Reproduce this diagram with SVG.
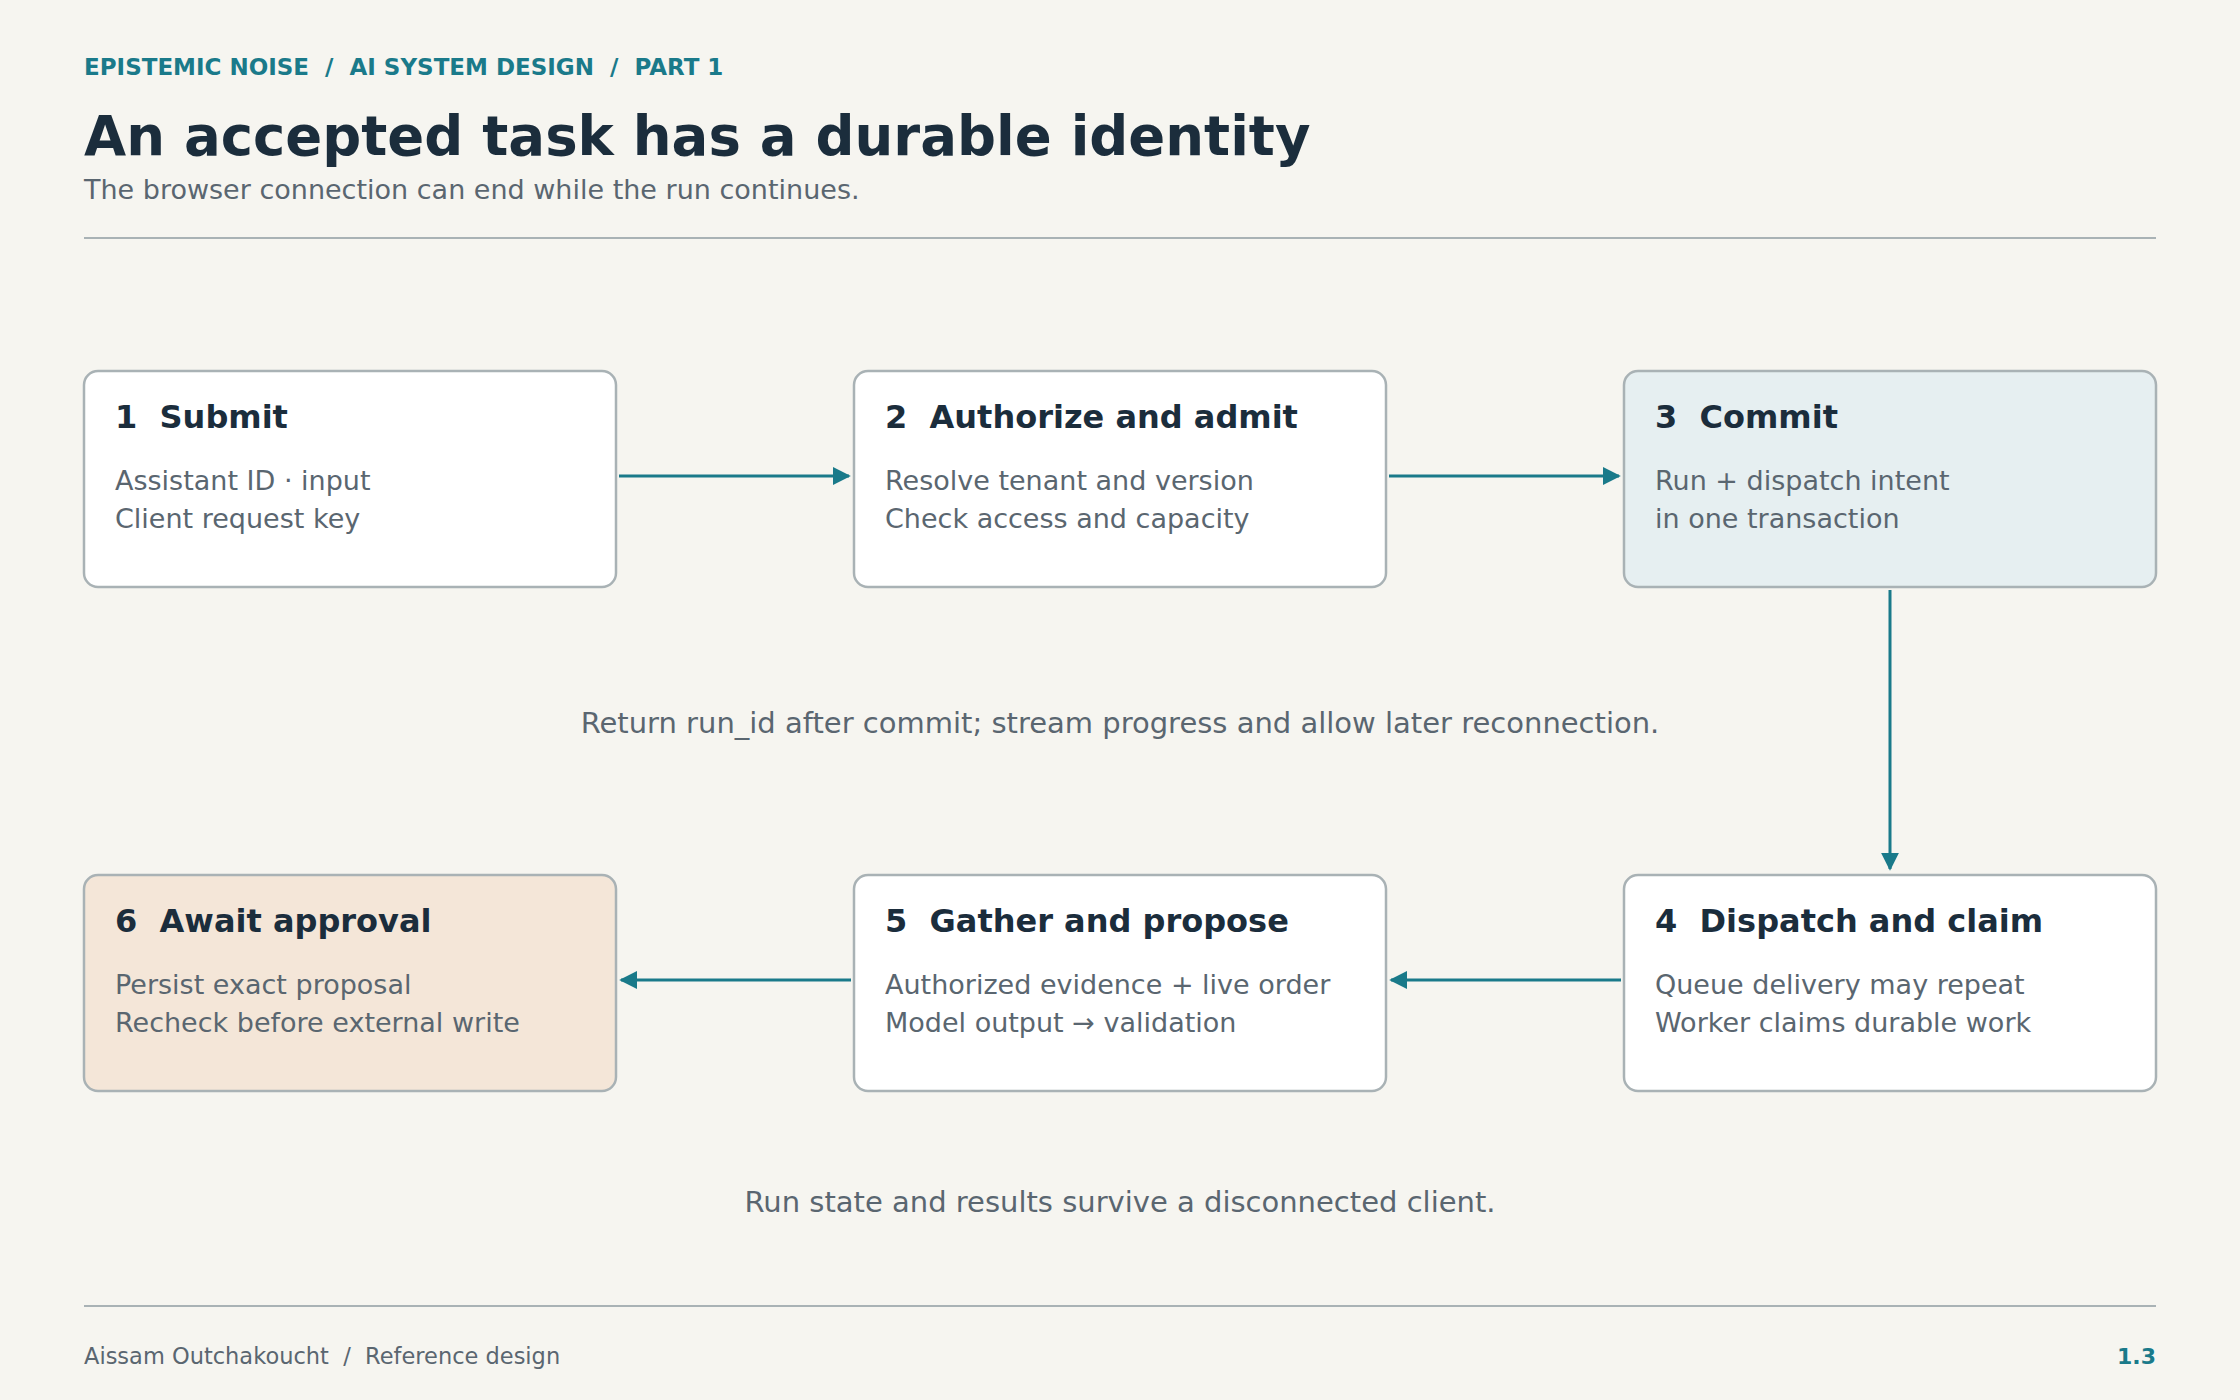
<svg xmlns="http://www.w3.org/2000/svg" width="2240" height="1400" viewBox="0 0 2240 1400">
<style>
text{font-family:"DejaVu Sans",sans-serif;white-space:pre}
.box{fill:#ffffff;stroke:#a9b2b5;stroke-width:2.5}
.t{font-size:32px;font-weight:bold;fill:#1b2d3c}
.b{font-size:27px;fill:#5a6670}
.c{stroke:#1a7a8a;stroke-width:3;fill:none;marker-end:url(#a)}
.n{font-size:29px;fill:#5a6670;text-anchor:middle}
</style>
<defs><marker id="a" viewBox="0 0 10 10" refX="9" refY="5" markerWidth="6" markerHeight="6" orient="auto"><path d="M0,0L10,5L0,10z" fill="#1a7a8a"/></marker></defs>
<rect width="2240" height="1400" fill="#f6f5f0"/>
<text x="84" y="75" font-size="23" font-weight="bold" fill="#1a7a8a" xml:space="preserve">EPISTEMIC NOISE  /  AI SYSTEM DESIGN  /  PART 1</text>
<text x="84" y="155" font-size="54.5" font-weight="bold" fill="#1b2d3c">An accepted task has a durable identity</text>
<text x="84" y="199" font-size="27" fill="#5a6670">The browser connection can end while the run continues.</text>
<line x1="84" y1="238" x2="2156" y2="238" stroke="#a9b2b5" stroke-width="2"/>
<g id="n1"><rect class="box" x="84" y="371" width="532" height="216" rx="14"/><text class="t" x="115" y="428" xml:space="preserve">1  Submit</text><text class="b" x="115" y="490">Assistant ID · input</text><text class="b" x="115" y="528">Client request key</text></g>
<g id="n2"><rect class="box" x="854" y="371" width="532" height="216" rx="14"/><text class="t" x="885" y="428" xml:space="preserve">2  Authorize and admit</text><text class="b" x="885" y="490">Resolve tenant and version</text><text class="b" x="885" y="528">Check access and capacity</text></g>
<g id="n3"><rect class="box" x="1624" y="371" width="532" height="216" rx="14" style="fill:#e6eff1"/><text class="t" x="1655" y="428" xml:space="preserve">3  Commit</text><text class="b" x="1655" y="490">Run + dispatch intent</text><text class="b" x="1655" y="528">in one transaction</text></g>
<g id="n4"><rect class="box" x="1624" y="875" width="532" height="216" rx="14"/><text class="t" x="1655" y="932" xml:space="preserve">4  Dispatch and claim</text><text class="b" x="1655" y="994">Queue delivery may repeat</text><text class="b" x="1655" y="1032">Worker claims durable work</text></g>
<g id="n5"><rect class="box" x="854" y="875" width="532" height="216" rx="14"/><text class="t" x="885" y="932" xml:space="preserve">5  Gather and propose</text><text class="b" x="885" y="994">Authorized evidence + live order</text><text class="b" x="885" y="1032">Model output → validation</text></g>
<g id="n6"><rect class="box" x="84" y="875" width="532" height="216" rx="14" style="fill:#f4e6d8"/><text class="t" x="115" y="932" xml:space="preserve">6  Await approval</text><text class="b" x="115" y="994">Persist exact proposal</text><text class="b" x="115" y="1032">Recheck before external write</text></g>
<g id="connectors">
<line class="c" x1="619" y1="476" x2="849" y2="476"/>
<line class="c" x1="1389" y1="476" x2="1619" y2="476"/>
<line class="c" x1="1890" y1="590" x2="1890" y2="869"/>
<line class="c" x1="1621" y1="980" x2="1391" y2="980"/>
<line class="c" x1="851" y1="980" x2="621" y2="980"/>
</g>
<text class="n" x="1120" y="733">Return run_id after commit; stream progress and allow later reconnection.</text>
<text class="n" x="1120" y="1212">Run state and results survive a disconnected client.</text>
<line x1="84" y1="1306" x2="2156" y2="1306" stroke="#a9b2b5" stroke-width="2"/>
<text x="84" y="1364" font-size="22.5" fill="#5a6670" xml:space="preserve">Aissam Outchakoucht  /  Reference design</text>
<text x="2156" y="1364" font-size="22" font-weight="bold" fill="#1a7a8a" text-anchor="end">1.3</text>
</svg>
